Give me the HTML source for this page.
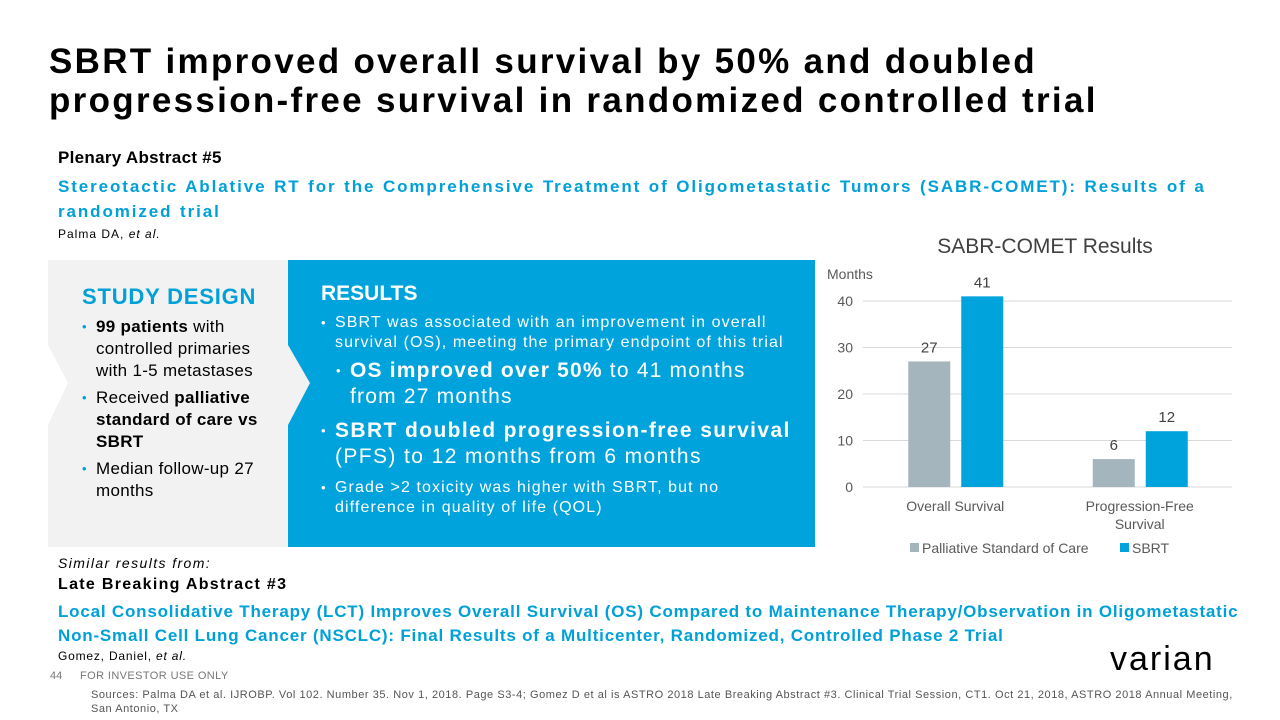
<!DOCTYPE html>
<html><head><meta charset="utf-8">
<style>
*{margin:0;padding:0;box-sizing:border-box}
body{width:1280px;height:720px;background:#fff;font-family:"Liberation Sans",sans-serif;position:relative;overflow:hidden;color:#000}
.a{position:absolute;white-space:nowrap}
.blue{color:#00a0d8}
ul{list-style:none}
li{position:relative;padding-left:14px}
li:before{content:"•";position:absolute;left:0;font-size:13px}
#sd li:before{color:#00a0d8}
#res li:before{color:#fff}
</style></head><body>
<div class="a" style="left:49px;top:42px;font-size:35px;font-weight:bold;line-height:39px;color:#000;letter-spacing:2.3px">SBRT improved overall survival by 50% and doubled<br>progression-free survival in randomized controlled trial</div>
<div class="a" style="left:58px;top:148px;font-size:17px;font-weight:bold;letter-spacing:0.3px">Plenary Abstract #5</div>
<div class="a blue" style="left:58px;top:174px;font-size:17px;font-weight:bold;line-height:25px;letter-spacing:1.9px;word-spacing:1px">Stereotactic Ablative RT for the Comprehensive Treatment of Oligometastatic  Tumors (SABR-COMET):  Results of a<br>randomized trial</div>
<div class="a" style="left:58px;top:227px;font-size:12px;letter-spacing:1px">Palma DA, <i>et al.</i></div>

<svg class="a" style="left:0;top:0" width="820" height="560">
<rect x="288" y="260" width="527" height="287" fill="#00a3dc"/>
<polygon points="48,260 288,260 288,345 310,383 288,425 288,547 48,547 48,425 68,383 48,345" fill="#f2f2f2"/>
</svg>
<div class="a" id="sd" style="left:82px;top:284px;white-space:normal;width:200px">
<div class="blue" style="font-size:22px;font-weight:bold;margin-bottom:6px;letter-spacing:0.8px">STUDY DESIGN</div>
<ul style="font-size:17px;line-height:22px;letter-spacing:0.3px">
<li style="margin-bottom:5px"><b>99 patients</b> with<br>controlled primaries<br>with 1-5 metastases</li>
<li style="margin-bottom:5px">Received <b>palliative<br>standard of care vs<br>SBRT</b></li>
<li>Median follow-up 27<br>months</li>
</ul></div>
<div class="a" id="res" style="left:321px;top:282px;white-space:nowrap;width:490px;color:#fff">
<div style="font-size:21px;font-weight:bold;margin-bottom:7px">RESULTS</div>
<ul>
<li style="font-size:16px;line-height:20px;margin-bottom:5px;letter-spacing:1.1px">SBRT was associated with an improvement in overall<br>survival (OS), meeting the primary endpoint of this trial</li>
<li style="font-size:21px;line-height:26px;margin-left:15px;margin-bottom:8px;letter-spacing:1.2px"><b>OS improved over 50%</b>  to 41 months<br>from 27 months</li>
<li style="font-size:21px;line-height:26px;margin-bottom:8px;letter-spacing:1.4px"><b>SBRT doubled progression-free survival</b><br>(PFS) to 12 months from 6 months</li>
<li style="font-size:16px;line-height:20px;letter-spacing:1.1px">Grade &gt;2 toxicity was higher with SBRT, but no<br>difference in quality of life (QOL)</li>
</ul></div>

<svg class="a" style="left:820px;top:225px" width="440" height="340" id="chart" font-family="Liberation Sans, sans-serif"></svg>

<div class="a" style="left:58px;top:555px;font-size:14px;font-style:italic;letter-spacing:1.4px">Similar results from:</div>
<div class="a" style="left:58px;top:576px;font-size:16px;font-weight:bold;letter-spacing:1.3px">Late Breaking Abstract #3</div>
<div class="a blue" style="left:58px;top:600px;font-size:17px;font-weight:bold;line-height:24px;letter-spacing:0.8px">Local Consolidative Therapy (LCT) Improves Overall Survival (OS) Compared to Maintenance Therapy/Observation in Oligometastatic<br>Non-Small Cell Lung Cancer (NSCLC): Final Results of a Multicenter, Randomized, Controlled Phase 2 Trial</div>
<div class="a" style="left:58px;top:649px;font-size:12px;letter-spacing:0.8px">Gomez, Daniel, <i>et al.</i></div>
<div class="a" style="left:50px;top:670px;font-size:11px;color:#777">44</div>
<div class="a" style="left:80px;top:670px;font-size:11px;color:#777;letter-spacing:0.4px">FOR INVESTOR USE ONLY</div>
<div class="a" style="left:91px;top:688px;font-size:11px;line-height:14px;color:#555;letter-spacing:0.55px">Sources:  Palma DA et al.  IJROBP. Vol 102. Number 35. Nov 1, 2018. Page S3-4; Gomez D et al is ASTRO  2018 Late Breaking Abstract #3. Clinical Trial Session, CT1. Oct 21, 2018, ASTRO  2018 Annual Meeting,<br>San Antonio, TX</div>
<div class="a" style="left:1110px;top:640px;font-size:34px;color:#000;letter-spacing:2px">varian</div>

<script>
const categories=["Overall Survival","Progression-Free Survival"];
const careValues=[27,6];
const sbrtValues=[41,12];
const yTicks=[0,10,20,30,40];
const svg=document.getElementById('chart');
const NS="http://www.w3.org/2000/svg";
const ox=820,oy=225;
const x0=863-ox,x1=1232-ox,y0=487-oy,y40=301-oy;
const ys=v=>y0+(y40-y0)*v/40;
const bw=(x1-x0)/categories.length;
function mk(t,a,txt){const e=document.createElementNS(NS,t);for(const k in a)e.setAttribute(k,a[k]);if(txt!==undefined)e.textContent=txt;svg.appendChild(e);return e;}
let e=mk('text',{x:225,y:28,'font-size':21,fill:'#404040','text-anchor':'middle'},'SABR-COMET Results');


e=mk('text',{x:7,y:54,'font-size':14,fill:'#595959'},'Months');


yTicks.forEach(t=>{
 const l=mk('line',{x1:x0,x2:x1,y1:ys(t),y2:ys(t),stroke:'#d9d9d9','stroke-width':1});
 
 
 const tx=mk('text',{x:x0-10,y:ys(t)+5,'font-size':14,fill:'#595959','text-anchor':'end'},t);
 
 
});
categories.forEach((c,i)=>{
 const cx=x0+bw*(i+0.5);
 [[careValues[i],'#a5b5bd'],[sbrtValues[i],'#00a3dc']].forEach(([v,col],j)=>{
  const bx=cx+(j===0?-47:6);
  const r=mk('rect',{x:bx,y:ys(v),width:42,height:y0-ys(v),fill:col});
  
  
  const lb=mk('text',{x:bx+21,y:ys(v)-9,'font-size':15,fill:'#404040','text-anchor':'middle'},v);
  
  
 });
 const words=c==="Progression-Free Survival"?["Progression-Free","Survival"]:[c];
 words.forEach((w,k)=>{
  const tx=mk('text',{x:cx,y:y0+24+k*18,'font-size':14,fill:'#595959','text-anchor':'middle'},w);
  
  
 });
});
[['#a5b5bd','Palliative Standard of Care',90],['#00a3dc','SBRT',300]].forEach(([col,t,x])=>{
 const r=mk('rect',{x:x,y:318,width:9,height:9,fill:col});
 
 
 const tx=mk('text',{x:x+12,y:328,'font-size':14,fill:'#595959'},t);
 
 
});
</script>
</body></html>
